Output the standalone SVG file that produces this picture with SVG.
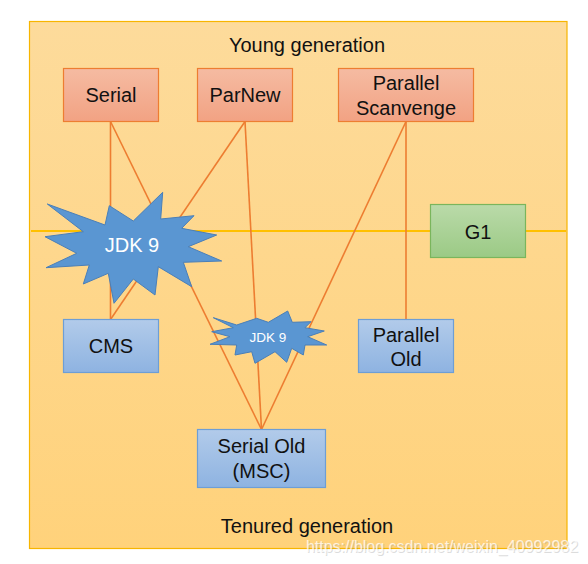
<svg xmlns="http://www.w3.org/2000/svg" width="588" height="564" viewBox="0 0 588 564">
<defs>
<linearGradient id="gBg" x1="0" y1="0" x2="0" y2="1"><stop offset="0" stop-color="#fddb9b"/><stop offset="1" stop-color="#ffd27b"/></linearGradient>
<linearGradient id="gRed" x1="0" y1="0" x2="0" y2="1"><stop offset="0" stop-color="#f5bba2"/><stop offset="1" stop-color="#f2a283"/></linearGradient>
<linearGradient id="gBlue" x1="0" y1="0" x2="0" y2="1"><stop offset="0" stop-color="#b2cbea"/><stop offset="1" stop-color="#8eb3e1"/></linearGradient>
<linearGradient id="gGreen" x1="0" y1="0" x2="0" y2="1"><stop offset="0" stop-color="#badaa9"/><stop offset="1" stop-color="#9bca85"/></linearGradient>
</defs>
<style>
text{font-family:"Liberation Sans",Arial,sans-serif;font-size:20px;fill:#111;text-anchor:middle;stroke:none}
.red{fill:url(#gRed);stroke:#ed7d31;stroke-width:1.2}
.blue{fill:url(#gBlue);stroke:#6d9ed6;stroke-width:1.2}
.green{fill:url(#gGreen);stroke:#7ab55c;stroke-width:1.2}
.conn line{stroke:#ed7d31;stroke-width:1.6;fill:none}
.star{fill:#5a96d2;stroke:#4a7fb8;stroke-width:1}
text.w{fill:#fff}
</style>
<g id="background">
<rect x="29.5" y="21.5" width="537.5" height="527" fill="url(#gBg)" stroke="#f7b500" stroke-width="1.2"/>
<line x1="31" y1="231" x2="566" y2="231" stroke="#ffc000" stroke-width="2"/>
<text x="307" y="52">Young generation</text>
<text x="307" y="533">Tenured generation</text>
</g>
<g id="connectors" class="conn">
<line x1="110.5" y1="121.5" x2="110.5" y2="319.5"/>
<line x1="110.5" y1="121.5" x2="261.5" y2="429.5"/>
<line x1="245" y1="121.5" x2="110.5" y2="319.5"/>
<line x1="245" y1="121.5" x2="261.5" y2="429.5"/>
<line x1="406" y1="121.5" x2="406" y2="319.5"/>
<line x1="406" y1="121.5" x2="261.5" y2="429.5"/>
</g>
<g id="serial"><rect class="red" x="63.5" y="68.5" width="95" height="53"/><text x="111" y="102">Serial</text></g>
<g id="parnew"><rect class="red" x="197.5" y="68.5" width="95" height="53"/><text x="245" y="102">ParNew</text></g>
<g id="parallel-scavenge"><rect class="red" x="338.5" y="68.5" width="135" height="53"/><text x="406" y="90">Parallel</text><text x="406" y="114.5">Scanvenge</text></g>
<g id="g1"><rect class="green" x="430.5" y="204.5" width="95" height="53"/><text x="478" y="238.5">G1</text></g>
<g id="cms"><rect class="blue" x="63.5" y="319.5" width="95" height="53"/><text x="111" y="353">CMS</text></g>
<g id="parallel-old"><rect class="blue" x="358.5" y="319.5" width="95" height="53"/><text x="406" y="342">Parallel</text><text x="406" y="365.5">Old</text></g>
<g id="serial-old"><rect class="blue" x="197.5" y="429.5" width="128" height="58"/><text x="261.5" y="453">Serial Old</text><text x="261.5" y="477.5">(MSC)</text></g>
<g id="jdk9-big">
<polygon class="star" points="47.3,204 105,225 109.3,205.7 133.3,221 162.7,192.3 160.7,219 194,215.7 181.7,228.3 216.7,235 188.3,246.7 221.7,261 183.3,262.3 191.7,286.7 158.3,266.7 155,295 133.3,279 114,303.3 108.3,273.3 83.3,284 89.3,265 46,267.7 76.7,253.3 45,236.7 83.3,231.7"/>
<text class="w" x="132" y="252">JDK 9</text>
</g>
<g id="jdk9-small">
<polygon class="star" points="213.3,317.7 236.7,325 256.7,318.3 268.3,322.3 287.7,311 292.3,322.3 311,321.7 305,327.7 324.3,331 307.7,336.7 326.7,345 305,345 303.3,355 291.7,348.3 286.7,362.3 275,351.7 255,363.3 251.7,351.7 235,355 236.7,345 210,344.3 230,336.7 211.7,331.7 233.3,327.7"/>
<text class="w" x="268" y="342" style="font-size:13.5px">JDK 9</text>
</g>
<g id="watermark">
<text x="443" y="552.5" style="font-size:16px;fill:#9a9a9a;fill-opacity:0.35">https://blog.csdn.net/weixin_40992982</text>
<text x="442" y="551.5" style="font-size:16px;fill:#ffffff;fill-opacity:0.75">https://blog.csdn.net/weixin_40992982</text>
</g>
</svg>
